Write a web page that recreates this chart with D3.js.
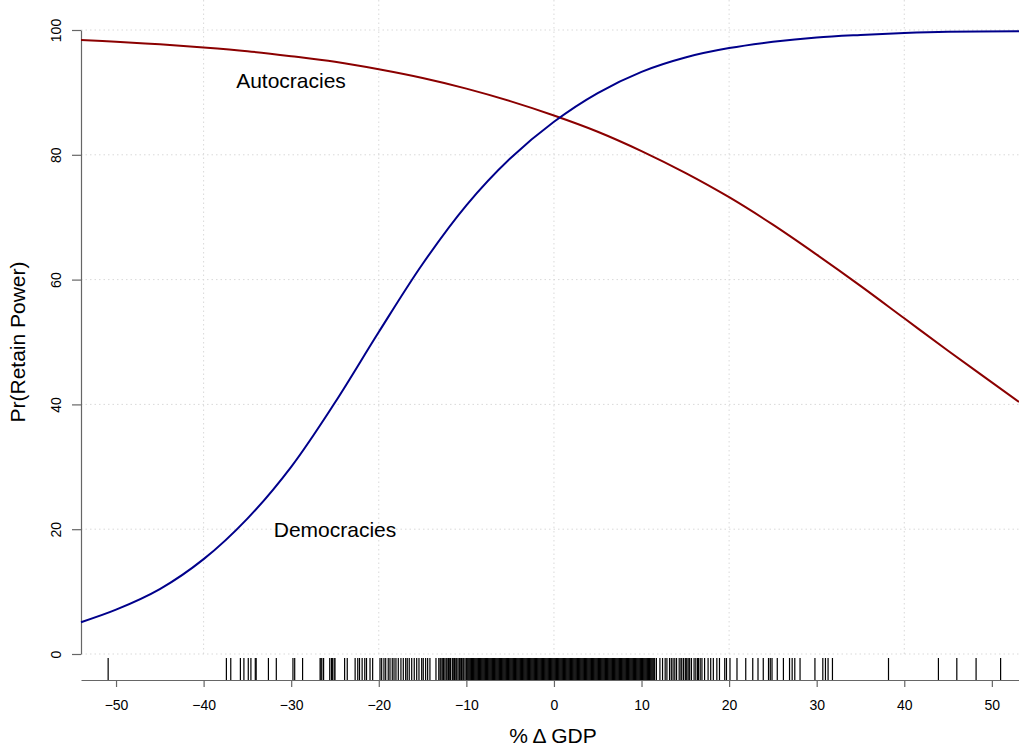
<!DOCTYPE html>
<html>
<head>
<meta charset="utf-8">
<script src="https://cdn.jsdelivr.net/npm/d3@7"></script>
<style>
  body { margin: 0; background: #fff; }
  svg { display: block; font-family: "Liberation Sans", Arial, sans-serif; }
</style>
</head>
<body>
<div id="chart"></div>
<script>
// predicted probabilities (x = % change in GDP)
var gdpPoints = [-54, -50, -45, -40, -35, -30, -25, -20, -15, -10, -5, 0, 5, 10, 15, 20, 25, 30, 35, 40, 45, 53.1];
var democracies = [5.1, 7.1, 10.4, 15.2, 21.7, 30.0, 40.3, 51.6, 62.5, 71.9, 79.4, 85.3, 89.9, 93.3, 95.6, 97.1, 98.1, 98.8, 99.2, 99.5, 99.7, 99.8];
var autocracies = [98.4, 98.1, 97.7, 97.2, 96.6, 95.8, 94.9, 93.7, 92.3, 90.6, 88.6, 86.3, 83.7, 80.6, 77.1, 73.2, 68.8, 64.0, 59.0, 53.8, 48.6, 40.4];

var xTicks = [-50, -40, -30, -20, -10, 0, 10, 20, 30, 40, 50];
var yTicks = [0, 20, 40, 60, 80, 100];
var xGrid = [-40, -20, 0, 20, 40];

// observed GDP changes (rug)
var rugValues = [
  -50.9, -37.4, -36.9, -35.8, -35.4, -34.9, -34.6, -34.1, -34.0, -32.6, -31.7, -29.8, -29.6, -28.7,
  -26.7, -26.6, -26.5, -26.3, -25.6, -25.4, -25.3, -25.1, -25.0, -23.9, -23.6,
  -22.7, -22.4, -22.2, -21.9, -21.6, -21.4, -21.0, -20.7,
  -19.86, -19.67, -19.41, -19.21, -18.92, -18.72, -18.46, -18.26, -18.04, -17.77, -17.47, -17.2,
  -16.93, -16.75, -16.52, -16.24, -15.95, -15.67, -15.41, -15.1, -14.92, -14.65, -14.42, -14.16, -13.47,
  -13.15, -13.0, -12.9, -12.75, -12.6, -12.45, -12.3, -12.2, -12.05, -11.9, -11.8, -11.6, -11.5,
  -11.35, -11.2, -11.1, -10.95, -10.8, -10.7, -10.55, -10.4, -10.3, -10.15, -10.0, -9.9,
  -9.8, -9.7, -9.6, -9.5, -9.4, -9.3, -9.2, -9.1, -9.0, -8.9, -8.8, -8.7, -8.6, -8.5, -8.4, -8.3, -8.2, -8.1,
  -8.0, -7.9, -7.8, -7.7, -7.6, -7.5, -7.4, -7.3, -7.2, -7.1, -7.0, -6.9, -6.8, -6.7, -6.6, -6.5, -6.4, -6.3,
  -6.2, -6.1, -6.0, -5.9, -5.8, -5.7, -5.6, -5.5, -5.4, -5.3, -5.2, -5.1, -5.0, -4.9, -4.8, -4.7, -4.6, -4.5,
  -4.4, -4.3, -4.2, -4.1, -4.0, -3.9, -3.8, -3.7, -3.6, -3.5, -3.4, -3.3, -3.2, -3.1, -3.0, -2.9, -2.8, -2.7,
  -2.6, -2.5, -2.4, -2.3, -2.2, -2.1, -2.0, -1.9, -1.8, -1.7, -1.6, -1.5, -1.4, -1.3, -1.2, -1.1, -1.0, -0.9,
  -0.8, -0.7, -0.6, -0.5, -0.4, -0.3, -0.2, -0.1, 0.0, 0.1, 0.2, 0.3, 0.4, 0.5, 0.6, 0.7, 0.8, 0.9,
  1.0, 1.1, 1.2, 1.3, 1.4, 1.5, 1.6, 1.7, 1.8, 1.9, 2.0, 2.1, 2.2, 2.3, 2.4, 2.5, 2.6, 2.7, 2.8, 2.9,
  3.0, 3.1, 3.2, 3.3, 3.4, 3.5, 3.6, 3.7, 3.8, 3.9, 4.0, 4.1, 4.2, 4.3, 4.4, 4.5, 4.6, 4.7, 4.8, 4.9,
  5.0, 5.1, 5.2, 5.3, 5.4, 5.5, 5.6, 5.7, 5.8, 5.9, 6.0, 6.1, 6.2, 6.3, 6.4, 6.5, 6.6, 6.7, 6.8, 6.9,
  7.0, 7.1, 7.2, 7.3, 7.4, 7.5, 7.6, 7.7, 7.8, 7.9, 8.0, 8.1, 8.2, 8.3, 8.4, 8.5, 8.6, 8.7, 8.8, 8.9,
  9.0, 9.1, 9.2, 9.3, 9.4, 9.5, 9.6, 9.7, 9.8, 9.9, 10.0, 10.1, 10.2, 10.3, 10.4, 10.5, 10.6, 10.7, 10.8, 10.9,
  11.0, 11.1, 11.2, 11.3, 11.4, 11.5,
  11.7, 12.1, 12.4, 12.7, 12.9, 13.2, 13.4, 13.6, 13.8, 14.0, 14.3, 14.5, 14.6, 14.8, 15.0, 15.1, 15.2, 15.4,
  15.5, 15.7, 16.0, 16.2, 16.4, 16.5, 16.7, 16.9, 17.2, 17.6, 17.9, 18.2, 18.6, 18.9, 19.5, 19.7, 20.1,
  20.9, 21.9, 22.7, 23.3, 23.9, 24.5, 24.7, 24.9, 25.5, 26.2, 26.9, 27.2, 27.5, 28.1, 29.8,
  30.7, 31.0, 31.3, 31.8, 38.2, 43.9, 46.0, 48.2, 51.0
];

var width = 1019, height = 747;
var plot = {left: 81, right: 1019, top: 30, bottom: 654};

var svg = d3.select("#chart").append("svg")
    .attr("width", width)
    .attr("height", height);

var x = d3.scaleLinear().domain([-54, 53.1]).range([plot.left, plot.right]);
var y = d3.scaleLinear().domain([0, 100]).range([plot.bottom, plot.top]);

// dotted grid
svg.append("g").selectAll("line.hgrid")
    .data(yTicks)
  .enter().append("line")
    .attr("x1", plot.left).attr("x2", plot.right)
    .attr("y1", function(d) { return y(d); })
    .attr("y2", function(d) { return y(d); })
    .style("stroke", "#d9d9d9")
    .style("stroke-dasharray", "1.5,3");

svg.append("g").selectAll("line.vgrid")
    .data(xGrid)
  .enter().append("line")
    .attr("x1", function(d) { return x(d); })
    .attr("x2", function(d) { return x(d); })
    .attr("y1", 0).attr("y2", plot.bottom)
    .style("stroke", "#d9d9d9")
    .style("stroke-dasharray", "1.5,3");

// rug
svg.append("g").selectAll("line")
    .data(rugValues)
  .enter().append("line")
    .attr("x1", function(d) { return x(d); })
    .attr("x2", function(d) { return x(d); })
    .attr("y1", 658).attr("y2", 680)
    .style("stroke", "#000")
    .style("stroke-width", 1.2);

// axes
var xAxis = svg.append("g")
    .attr("transform", "translate(0,680)")
    .call(d3.axisBottom(x).tickValues(xTicks).tickSize(7).tickSizeOuter(0));
xAxis.selectAll("text")
    .attr("y", 30).attr("dy", 0)
    .style("font-size", "14px")
    .style("font-family", "Liberation Sans, Arial, sans-serif")
    .style("fill", "#000");

var yAxis = svg.append("g")
    .attr("transform", "translate(" + plot.left + ",0)")
    .call(d3.axisLeft(y).tickValues(yTicks).tickSize(9).tickSizeOuter(0));
yAxis.selectAll("text")
    .attr("x", 0).attr("dy", 0)
    .attr("y", -20)
    .attr("transform", "rotate(-90)")
    .style("text-anchor", "middle")
    .style("font-size", "14px")
    .style("font-family", "Liberation Sans, Arial, sans-serif")
    .style("fill", "#000");

svg.selectAll(".domain, .tick line")
    .style("stroke", "#666")
    .style("stroke-width", 1.2);

// curves
var line = d3.line()
    .x(function(d) { return x(d[0]); })
    .y(function(d) { return y(d[1]); })
    .curve(d3.curveCatmullRom.alpha(0.5));

svg.append("path")
    .datum(gdpPoints.map(function(g, i) { return [g, autocracies[i]]; }))
    .attr("d", line)
    .style("fill", "none")
    .style("stroke", "#8b0000")
    .style("stroke-width", 2);

svg.append("path")
    .datum(gdpPoints.map(function(g, i) { return [g, democracies[i]]; }))
    .attr("d", line)
    .style("fill", "none")
    .style("stroke", "#00008b")
    .style("stroke-width", 2);

// labels
svg.append("text")
    .attr("x", 291).attr("y", 88)
    .attr("text-anchor", "middle")
    .style("font-size", "21px")
    .text("Autocracies");

svg.append("text")
    .attr("x", 335).attr("y", 537)
    .attr("text-anchor", "middle")
    .style("font-size", "21px")
    .text("Democracies");

svg.append("text")
    .attr("x", 553).attr("y", 743)
    .attr("text-anchor", "middle")
    .style("font-size", "21px")
    .text("% \u0394 GDP");

svg.append("text")
    .attr("transform", "translate(25,342) rotate(-90)")
    .attr("text-anchor", "middle")
    .style("font-size", "21px")
    .text("Pr(Retain Power)");
</script>
</body>
</html>
